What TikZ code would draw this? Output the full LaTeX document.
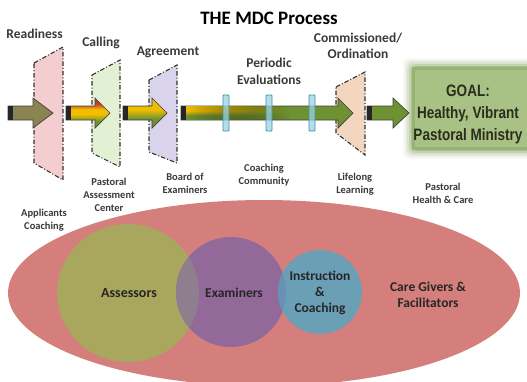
\documentclass[tikz,border=0pt]{standalone}
\usepackage{fontspec}
\setmainfont{Carlito}
\newfontfamily\goalfont{Liberation Sans}
\usetikzlibrary{fadings}
\definecolor{ellred}{HTML}{D47F7C}
\definecolor{assess}{HTML}{A9A75E}
\definecolor{exam}{HTML}{93699A}
\definecolor{instr}{HTML}{6A9FB6}
\definecolor{ovAE}{HTML}{8F7F8E}
\definecolor{ovEI}{HTML}{6A90B6}
\definecolor{pinkT}{HTML}{F3CDD0}
\definecolor{greenT}{HTML}{E2F0D3}
\definecolor{purpT}{HTML}{D9D3EC}
\definecolor{peachT}{HTML}{F3D6C0}
\definecolor{olivearrow}{HTML}{8B8452}
\definecolor{agreen}{HTML}{6E9232}
\definecolor{ayellow}{HTML}{F2BE00}
\definecolor{ared}{HTML}{C0392B}
\definecolor{bluebar}{HTML}{9BD3E3}
\definecolor{bluebarB}{HTML}{3F8FA8}
\definecolor{goalfill}{HTML}{A8C184}
\definecolor{goaledge}{HTML}{7E9E55}
\definecolor{goaltext}{HTML}{2B2D1C}
\definecolor{labelgray}{HTML}{3A3A3A}
\pgfdeclareverticalshading{rygshade}{100bp}{color(0bp)=(agreen); color(36bp)=(agreen); color(48bp)=(ayellow); color(56bp)=(ayellow); color(66bp)=(ared); color(100bp)=(ared)}
\pgfdeclareverticalshading{ygshade}{100bp}{color(0bp)=(agreen); color(40bp)=(agreen); color(56bp)=(ayellow); color(100bp)=(ayellow!70!agreen)}
\pgfdeclareverticalshading{shaftshade}{100bp}{color(0bp)=(agreen); color(40bp)=(agreen); color(58bp)=(ayellow); color(100bp)=(ayellow)}
\newcommand\mdcarrow[4]{%
  \path[arrowbody,#4] (#1,106) -- (#2,106) -- (#2,98) -- (#3,113) -- (#2,128) -- (#2,120) -- (#1,120) -- cycle;
  \fill[black!85] (#1,106) rectangle (#1+5,120);
}
\begin{document}
\begin{tikzpicture}[x=1pt,y=-1pt,
  steplabel/.style={font=\fontsize{13.5}{16.5}\selectfont\bfseries, text=labelgray, align=center, inner sep=0},
  smalllabel/.style={font=\fontsize{10.5}{13}\selectfont\bfseries, text=labelgray, align=center, inner sep=0},
  circlabel/.style={font=\fontsize{13.5}{16}\selectfont\bfseries, text=black!85, align=center, inner sep=0},
  trap/.style={draw=black!80, line width=1.1pt, dash pattern=on 4.5pt off 2pt on 1pt off 2pt},
  arrowbody/.style={draw=black!75, line width=0.7pt, line join=miter},
  bar/.style={fill=bluebar, fill opacity=0.75, draw=bluebarB, line width=0.8pt, rounded corners=0.8pt},
]
\useasboundingbox (0,0) rectangle (527,381);
\fill[white] (0,0) rectangle (527,381);

% ---- lower ellipse and circles
\fill[ellred] (264,293) ellipse [x radius=256, y radius=93];
\fill[assess] (128,293) ellipse [x radius=71, y radius=69];
\fill[exam] (231,292) circle [radius=55];
\begin{scope}
  \clip (128,293) ellipse [x radius=71, y radius=69];
  \fill[ovAE] (231,292) circle [radius=55];
\end{scope}
\fill[instr] (320,292) circle [radius=42];
\begin{scope}
  \clip (231,292) circle [radius=55];
  \fill[ovEI] (320,292) circle [radius=42];
\end{scope}

\node[circlabel, font=\fontsize{14}{16}\selectfont\bfseries] (assessors) at (129,293) {Assessors};
\node[circlabel] (examiners) at (234,293) {Examiners};
\node[circlabel] (instruction) at (320,293) {Instruction\\\&\\Coaching};
\node[circlabel] (caregivers) at (428,295) {Care Givers \&\\Facilitators};

% ---- goal box
\foreach \d/\o in {9/0.06,7/0.1,5/0.15,3/0.22,1/0.35}
  \fill[goaledge, opacity=\o, rounded corners=6pt] (412-\d,67-\d) rectangle (545+\d,150+\d);
\fill[goalfill] (412,67) rectangle (545,150);
\draw[goaledge, line width=3pt, opacity=0.4] (413.5,68.5) rectangle (545,148.5);
\node[inner sep=0, text=goaltext] (goal) at (468,114.5)
  {\goalfont\bfseries\fontsize{16.5}{22}\selectfont\scalebox{0.82}[1]{\begin{tabular}{@{}c@{}}GOAL:\\Healthy, Vibrant\\Pastoral Ministry\end{tabular}}};

% ---- trapezoids
\filldraw[trap, fill=pinkT] (34,63) -- (63,47) -- (63,180) -- (34,163) -- cycle;
\filldraw[trap, fill=greenT] (92,75) -- (120,60) -- (120,167) -- (92,153) -- cycle;
\filldraw[trap, fill=purpT] (149,80) -- (177,65) -- (177,163) -- (149,152) -- cycle;
\filldraw[trap, fill=peachT] (336,87) -- (365,72) -- (365,155) -- (336,133) -- cycle;

% ---- arrows
\mdcarrow{8}{33}{53}{fill=olivearrow}
\mdcarrow{66}{95}{110}{shading=rygshade}
\mdcarrow{123}{152}{167}{shading=ygshade}
\mdcarrow{181}{338}{353}{fill=agreen}
\fill[shading=shaftshade, path fading=east] (186,106.4) rectangle (290,119.6);
\fill[black!85] (181,106) rectangle (186,120);
\mdcarrow{367}{393}{409}{fill=agreen}

% ---- evaluation bars
\filldraw[bar] (223,95) rectangle (229,131);
\filldraw[bar] (266,95) rectangle (272,131);
\filldraw[bar] (309,95) rectangle (315,131);

% ---- titles and labels
\node[inner sep=0, font=\fontsize{19}{22}\selectfont\bfseries] (title) at (269,18) {THE MDC Process};
\node[steplabel] (readiness) at (34.5,34) {Readiness};
\node[steplabel] (calling) at (101,43) {Calling};
\node[steplabel] (agreement) at (168,52) {Agreement};
\node[steplabel] (periodic) at (269,71.5) {Periodic\\Evaluations};
\node[steplabel] (commissioned) at (358,46) {Commissioned/\\Ordination};

\node[smalllabel] (applicants) at (44,220.5) {Applicants\\Coaching};
\node[smalllabel] (pac) at (109,195) {Pastoral\\Assessment\\Center};
\node[smalllabel] (board) at (185,183.5) {Board of\\Examiners};
\node[smalllabel] (coaching) at (264,175) {Coaching\\Community};
\node[smalllabel] (lifelong) at (355,184.5) {Lifelong\\Learning};
\node[smalllabel] (health) at (443,193) {Pastoral\\Health \& Care};
\end{tikzpicture}
\end{document}
